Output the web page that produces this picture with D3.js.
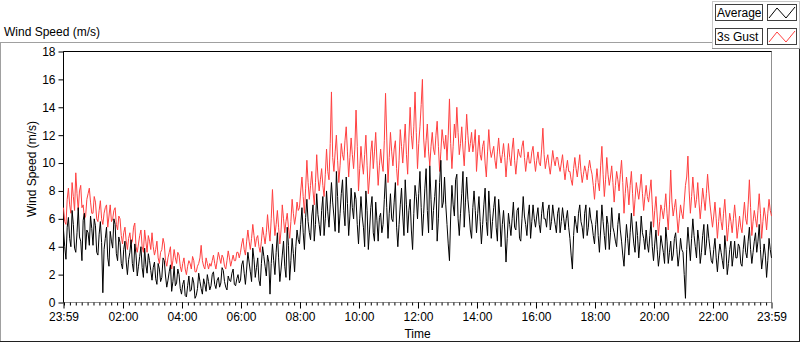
<!DOCTYPE html>
<html>
<head>
<meta charset="utf-8">
<script src="https://cdn.jsdelivr.net/npm/d3@7"></script>
<style>
  body { margin: 0; background: #fff; }
  svg { display: block; font-family: "Liberation Sans", Arial, sans-serif; font-size: 12px; }
</style>
</head>
<body>
<svg id="chart" width="800" height="342"></svg>
<script>
// samples spread evenly from 23:59 to 23:59 next day (24 per hour)
const avgSpeed = [
  5.2, 4.0, 3.1, 5.4, 6.1, 4.6, 4.0, 6.6, 5.6, 3.9, 3.6, 5.0, 6.8, 4.7, 4.4, 3.0, 5.9, 6.4, 3.8, 5.2, 5.0, 4.1, 6.2, 5.3,
  4.1, 6.0, 5.5, 3.6, 3.4, 4.9, 5.8, 4.3, 0.7, 3.8, 4.6, 5.4, 3.2, 2.6, 5.1, 4.4, 3.9, 6.0, 5.6, 3.5, 3.0, 4.7, 4.3, 2.8,
  2.4, 3.8, 4.4, 2.9, 2.0, 3.1, 3.6, 4.5, 2.8, 2.2, 4.2, 3.4, 1.9, 2.6, 3.3, 4.0, 2.5, 1.8, 3.9, 2.7, 2.1, 3.5, 3.0, 2.3,
  1.6, 2.5, 2.9, 1.7, 1.3, 2.8, 2.4, 1.5, 1.8, 3.2, 3.0, 1.9, 1.1, 1.6, 2.2, 2.7, 0.8, 1.5, 2.6, 1.2, 1.4, 2.4, 2.0, 1.0,
  0.6, 1.3, 1.6, 0.5, 0.4, 1.2, 1.9, 0.8, 0.9, 1.8, 1.4, 0.3, 0.5, 1.0, 2.1, 1.5, 1.0, 0.6, 1.7, 1.3, 0.8, 2.0, 1.5, 0.9,
  1.2, 2.0, 2.2, 1.3, 1.0, 1.6, 1.8, 1.1, 1.4, 2.5, 2.3, 1.5, 1.1, 0.9, 1.9, 1.6, 1.5, 2.1, 2.4, 1.3, 1.2, 1.7, 2.0, 1.4,
  1.6, 2.7, 3.0, 2.1, 1.3, 2.4, 3.6, 2.9, 2.2, 1.5, 3.9, 3.1, 1.8, 2.5, 3.2, 1.6, 1.2, 2.8, 4.0, 3.3, 2.6, 1.9, 3.4, 2.9,
  0.6, 2.8, 4.2, 3.0, 2.0, 3.6, 5.0, 3.2, 1.5, 2.4, 3.4, 4.4, 2.6, 1.8, 5.4, 4.1, 1.6, 3.0, 4.6, 3.5, 2.2, 4.0, 5.2, 4.5,
  4.2, 5.6, 6.8, 5.0, 3.8, 6.1, 7.4, 5.8, 5.0, 4.5, 6.2, 7.0, 4.4, 5.6, 7.8, 6.3, 5.6, 4.8, 6.6, 7.6, 4.8, 6.0, 8.0, 6.5,
  5.4, 7.0, 8.6, 7.2, 6.2, 5.1, 9.4, 7.6, 5.0, 6.4, 7.8, 8.8, 6.6, 5.5, 9.0, 7.1, 4.8, 6.2, 8.2, 6.8, 6.0, 7.9, 7.4, 5.6,
  4.2, 6.0, 7.6, 6.2, 5.4, 4.0, 8.0, 6.6, 3.8, 5.2, 6.8, 7.6, 5.0, 4.4, 7.2, 5.9, 4.4, 6.1, 6.4, 5.0, 5.6, 7.4, 9.2, 6.8,
  4.6, 6.4, 7.8, 6.0, 5.8, 7.2, 8.6, 5.4, 4.0, 5.6, 7.0, 8.2, 6.2, 4.8, 8.8, 7.0, 5.0, 6.6, 7.4, 5.2, 3.8, 6.4, 8.4, 7.6,
  6.0, 7.8, 9.4, 6.8, 4.8, 6.4, 8.2, 9.6, 6.6, 5.0, 9.8, 7.4, 5.2, 6.6, 7.6, 8.8, 4.4, 6.0, 8.6, 10.2, 6.8, 7.2, 9.0, 7.0,
  5.6, 4.2, 3.0, 6.2, 8.4, 7.0, 6.2, 8.8, 9.2, 6.0, 4.8, 6.4, 7.8, 9.4, 5.4, 7.2, 9.0, 7.4, 6.4, 5.2, 4.6, 6.8, 8.0, 6.6,
  5.0, 6.4, 7.6, 5.8, 4.2, 5.6, 7.0, 8.2, 5.8, 4.8, 8.0, 6.4, 4.6, 5.8, 6.8, 7.6, 5.4, 4.4, 7.4, 6.2, 4.0, 5.6, 6.6, 5.2,
  2.9, 4.6, 6.4, 5.6, 4.8, 6.0, 7.2, 5.4, 5.2, 6.6, 6.8, 4.6, 4.4, 6.0, 7.6, 6.2, 5.6, 4.8, 6.2, 7.0, 4.6, 5.8, 7.0, 6.0,
  5.4, 6.2, 6.8, 5.6, 5.0, 6.4, 7.2, 6.0, 6.0, 5.4, 6.6, 7.0, 5.2, 5.8, 7.0, 6.2, 5.6, 5.0, 6.4, 6.8, 5.0, 5.8, 6.8, 6.0,
  5.2, 6.0, 6.6, 5.4, 4.6, 3.4, 2.4, 4.8, 6.2, 5.6, 5.0, 6.4, 7.0, 5.8, 5.4, 4.6, 6.4, 7.0, 4.8, 5.4, 6.8, 6.0, 5.6, 4.8,
  4.2, 5.6, 6.6, 4.8, 3.6, 5.2, 7.0, 5.8, 4.8, 3.8, 6.2, 5.6, 3.8, 5.0, 6.8, 5.4, 5.0, 4.4, 4.0, 5.6, 6.4, 5.2, 4.4, 3.4,
  2.6, 4.2, 5.6, 4.6, 3.4, 5.0, 6.4, 5.2, 4.2, 3.6, 5.8, 4.8, 3.2, 4.4, 6.2, 5.0, 4.6, 3.8, 5.2, 4.2, 3.6, 4.8, 5.8, 4.0,
  3.0, 4.2, 5.2, 3.8, 2.6, 3.4, 4.8, 4.2, 3.6, 2.8, 5.4, 4.4, 2.8, 3.6, 4.4, 3.0, 3.4, 4.6, 5.0, 3.8, 2.6, 3.4, 4.6, 3.8,
  3.6, 2.0, 0.3, 3.8, 5.4, 4.2, 3.0, 4.6, 6.0, 4.8, 4.0, 3.2, 5.2, 4.4, 2.8, 3.6, 4.8, 5.6, 3.4, 4.2, 5.6, 4.6, 3.8, 3.0,
  2.8, 3.8, 4.6, 3.2, 2.2, 3.4, 4.2, 3.6, 3.0, 2.4, 4.8, 3.8, 2.0, 2.8, 3.8, 4.4, 2.6, 3.4, 4.4, 3.2, 3.2, 4.2, 4.0, 2.8,
  2.6, 3.8, 4.8, 3.6, 3.2, 4.4, 5.4, 3.8, 2.8, 3.6, 4.4, 5.0, 3.6, 4.4, 5.6, 3.8, 2.4, 3.2, 4.2, 3.4, 1.8, 3.0, 4.6, 3.8,
  3.2
];
const gustSpeed = [
  6.8, 5.8, 5.6, 7.4, 8.2, 7.0, 6.4, 8.6, 7.6, 6.6, 9.3, 7.8, 6.6, 8.0, 8.4, 6.8, 7.0, 6.0, 6.2, 7.4, 7.8, 8.2, 7.2, 6.4,
  6.4, 7.6, 7.2, 6.0, 5.8, 6.6, 7.3, 6.0, 5.6, 6.4, 6.8, 7.0, 5.4, 6.2, 7.0, 5.8, 6.0, 6.6, 6.8, 5.6, 5.2, 6.2, 6.0, 4.8,
  4.2, 5.0, 5.4, 4.4, 3.8, 4.6, 5.0, 4.2, 4.4, 5.4, 5.7, 4.0, 3.6, 4.2, 4.8, 5.2, 4.0, 3.6, 5.2, 4.4, 3.6, 4.8, 4.4, 3.8,
  5.0, 4.0, 3.4, 3.8, 4.4, 3.2, 2.8, 3.6, 3.8, 4.6, 4.2, 3.0, 2.6, 3.2, 3.6, 4.0, 2.4, 3.0, 3.8, 3.2, 2.8, 3.6, 3.4, 2.6,
  2.2, 2.8, 3.2, 2.4, 2.0, 2.6, 3.0, 2.8, 2.4, 3.3, 3.0, 2.2, 2.2, 2.6, 2.8, 3.2, 4.1, 3.0, 2.6, 2.4, 3.2, 2.8, 2.4, 2.8,
  2.6, 3.0, 3.4, 2.8, 2.4, 3.0, 3.6, 3.2, 2.8, 3.4, 3.2, 2.6, 2.4, 3.0, 3.7, 3.2, 2.6, 3.0, 3.4, 3.0, 3.0, 3.6, 3.6, 3.2,
  3.6, 4.2, 4.6, 3.8, 3.4, 4.4, 5.2, 4.4, 3.8, 4.6, 5.6, 4.8, 4.0, 4.6, 4.8, 4.0, 3.6, 4.4, 5.4, 4.8, 4.2, 5.0, 6.3, 5.2,
  4.4, 6.0, 8.1, 6.2, 4.8, 5.6, 6.6, 5.4, 4.2, 5.2, 7.0, 6.0, 5.0, 5.8, 6.4, 5.4, 4.6, 5.8, 7.4, 6.4, 5.6, 6.2, 7.2, 6.6,
  6.8, 8.0, 9.0, 7.6, 6.4, 8.2, 10.2, 8.6, 7.4, 8.4, 9.4, 8.0, 7.0, 8.6, 10.6, 9.0, 8.0, 8.8, 9.6, 8.4, 7.6, 9.2, 11.0, 9.4,
  8.8, 11.4, 15.1, 10.4, 9.4, 10.8, 12.0, 10.2, 8.6, 9.8, 11.4, 10.6, 10.2, 11.6, 12.6, 10.8, 9.0, 10.4, 11.8, 10.6, 9.6, 11.0, 13.8, 11.2,
  8.0, 9.6, 11.2, 10.0, 9.2, 10.6, 12.0, 9.8, 7.8, 9.0, 10.8, 11.6, 9.6, 10.8, 12.2, 10.2, 8.4, 9.8, 11.0, 10.0, 9.4, 11.6, 15.0, 11.8,
  8.6, 10.4, 12.2, 10.8, 9.8, 11.0, 11.6, 9.6, 8.4, 10.2, 12.4, 11.2, 10.0, 11.4, 12.8, 10.6, 9.2, 11.8, 14.0, 12.0, 11.0, 12.6, 15.1, 12.2,
  9.6, 11.4, 12.6, 14.2, 16.0, 11.8, 10.4, 11.6, 12.8, 10.8, 9.8, 11.2, 12.2, 11.0, 10.6, 12.0, 13.0, 11.2, 9.4, 10.8, 12.4, 11.6, 11.0, 12.0,
  10.2, 12.0, 14.6, 11.4, 9.6, 11.2, 12.8, 11.8, 14.0, 12.2, 10.6, 11.4, 12.6, 11.0, 9.8, 11.6, 13.5, 12.0, 10.8, 11.4, 12.2, 10.8, 11.4, 12.4,
  9.4, 10.8, 12.0, 10.6, 10.2, 11.2, 11.6, 10.0, 9.0, 10.8, 12.4, 11.0, 10.4, 10.8, 11.2, 10.2, 9.6, 10.8, 11.8, 10.6, 10.0, 10.6, 11.4, 10.4,
  9.0, 10.2, 11.4, 10.4, 9.8, 11.0, 11.8, 10.2, 9.2, 10.2, 11.0, 10.6, 10.4, 11.2, 11.6, 10.4, 9.4, 10.2, 10.8, 10.0, 10.0, 10.8, 11.2, 10.2,
  9.4, 10.2, 10.8, 10.0, 9.8, 11.0, 12.5, 10.6, 9.6, 10.2, 10.6, 9.8, 9.2, 10.0, 10.9, 10.2, 9.8, 10.4, 10.4, 9.8, 9.4, 10.0, 10.6, 9.6,
  8.8, 9.6, 10.2, 9.4, 9.4, 8.8, 8.4, 9.6, 10.4, 9.6, 9.0, 9.8, 10.6, 9.4, 8.6, 9.2, 9.8, 9.4, 8.8, 9.6, 10.2, 9.6, 9.2, 8.4,
  7.4, 8.6, 9.6, 8.6, 8.0, 9.8, 11.2, 9.2, 7.6, 8.8, 10.4, 9.2, 8.4, 9.0, 9.8, 8.6, 7.2, 8.4, 9.4, 8.8, 8.0, 9.2, 10.2, 8.6,
  6.4, 7.8, 9.0, 8.2, 7.0, 8.4, 9.4, 7.8, 6.2, 7.4, 8.6, 8.0, 7.4, 8.2, 9.2, 7.8, 6.6, 7.6, 8.4, 7.6, 7.2, 8.0, 8.8, 7.0,
  5.4, 6.6, 7.6, 6.2, 4.8, 5.8, 7.0, 6.6, 6.0, 6.8, 7.8, 6.4, 5.2, 7.0, 9.5, 7.2, 6.2, 6.8, 7.4, 6.2, 5.0, 6.0, 7.0, 6.4,
  6.0, 7.2, 8.4, 9.0, 10.5, 8.0, 6.4, 7.6, 9.0, 7.8, 6.8, 7.4, 8.6, 7.2, 6.0, 7.0, 8.2, 7.4, 6.6, 7.8, 9.2, 8.0, 7.0, 6.2,
  5.4, 6.2, 7.2, 6.0, 4.6, 5.8, 6.8, 5.8, 5.2, 6.4, 7.4, 6.0, 4.4, 5.4, 6.4, 5.8, 5.0, 6.0, 7.0, 6.0, 4.6, 5.4, 6.2, 5.4,
  5.0, 6.2, 7.2, 6.0, 5.6, 7.0, 8.8, 6.8, 4.8, 5.8, 6.6, 6.0, 5.4, 6.6, 7.8, 6.4, 4.6, 5.8, 6.8, 6.2, 5.2, 6.4, 7.4, 6.6,
  6.2
];
const xTickLabels = ['23:59', '02:00', '04:00', '06:00', '08:00', '10:00', '12:00',
  '14:00', '16:00', '18:00', '20:00', '22:00', '23:59'];
const yTicks = [0, 2, 4, 6, 8, 10, 12, 14, 16, 18];
const seriesNames = ['Average', '3s Gust'];
const seriesColors = ['#000000', '#ff4040'];

const svg = d3.select('#chart');

const start = new Date(2020, 0, 1, 23, 59);
const end = d3.timeDay.offset(start, 1);
const timesFor = s => s.map((d, i) => new Date(+start + (end - start) * i / (s.length - 1)));

const plot = {left: 63.5, right: 771.5, top: 51.5, bottom: 302.5};

const x = d3.scaleTime().domain([start, end]).range([plot.left, plot.right]);
const y = d3.scaleLinear().domain([0, 18]).range([plot.bottom, plot.top]);

// outer panel
svg.append('line').attr('x1', 0).attr('y1', 42.5).attr('x2', 712).attr('y2', 42.5).attr('stroke', '#a0a0a0');
svg.append('line').attr('x1', 0.5).attr('y1', 42).attr('x2', 0.5).attr('y2', 341).attr('stroke', '#a0a0a0');
svg.append('line').attr('x1', 0).attr('y1', 341.5).attr('x2', 800).attr('y2', 341.5).attr('stroke', '#202020');
svg.append('line').attr('x1', 799.5).attr('y1', 49).attr('x2', 799.5).attr('y2', 342).attr('stroke', '#202020');

svg.append('text').attr('x', 4).attr('y', 36).text('Wind Speed (m/s)');

// legend panel
svg.append('rect').attr('x', 712.5).attr('y', 1.5).attr('width', 87).attr('height', 47)
  .attr('fill', '#fff').attr('stroke', '#c8c8c8');
svg.append('line').attr('x1', 712).attr('y1', 48.5).attr('x2', 800).attr('y2', 48.5).attr('stroke', '#909090');

const legend = svg.append('g').selectAll('g').data(seriesNames).enter().append('g')
  .attr('transform', (d, i) => `translate(0,${i * 24})`);
legend.append('rect').attr('x', 715.5).attr('y', 4.5).attr('width', 47).attr('height', 16)
  .attr('fill', '#fff').attr('stroke', '#404040');
legend.append('text').attr('x', 717).attr('y', 17).text(d => d);
legend.append('rect').attr('x', 767.5).attr('y', 4.5).attr('width', 29).attr('height', 16)
  .attr('fill', '#fff').attr('stroke', '#404040');
legend.append('polyline')
  .attr('points', '769,18 777,8 786,18 795,7')
  .attr('fill', 'none')
  .attr('stroke', (d, i) => seriesColors[i]);

// plot border
svg.append('rect').attr('x', plot.left).attr('y', plot.top)
  .attr('width', plot.right - plot.left).attr('height', plot.bottom - plot.top)
  .attr('fill', '#fff').attr('stroke', '#909090');
svg.append('path')
  .attr('d', `M${plot.left},${plot.bottom}V${plot.top}H${plot.right}`)
  .attr('fill', 'none').attr('stroke', '#000');

// series, gust first so the average sits on top
[[gustSpeed, seriesColors[1]], [avgSpeed, seriesColors[0]]].forEach(([s, color]) => {
  const t = timesFor(s);
  const line = d3.line().x((d, i) => x(t[i])).y(d => y(d));
  svg.append('path')
    .datum(s)
    .attr('fill', 'none')
    .attr('stroke', color)
    .attr('stroke-width', 1)
    .attr('d', line);
});

// y axis
const yAxisG = svg.append('g')
  .attr('transform', `translate(${plot.left},0)`)
  .call(d3.axisLeft(y).tickValues(yTicks).tickSize(5).tickSizeOuter(0).tickPadding(3));
yAxisG.select('.domain').remove();
yAxisG.selectAll('text').attr('font-size', 12).attr('font-family', null);

svg.append('text')
  .attr('transform', `translate(36,${(plot.top + plot.bottom) / 2 - 8}) rotate(-90)`)
  .attr('text-anchor', 'middle')
  .text('Wind Speed (m/s)');

// x axis
const majorTicks = [start].concat(d3.timeHour.every(2).range(d3.timeHour.offset(start, 1), end), [end]);
const minorTicks = d3.timeMinute.every(12).range(d3.timeMinute.offset(start, 1), end);

const xMinorG = svg.append('g')
  .attr('transform', `translate(0,${plot.bottom})`)
  .call(d3.axisBottom(x).tickValues(minorTicks).tickSize(3).tickSizeOuter(0).tickFormat(''));
xMinorG.select('.domain').remove();

const xAxisG = svg.append('g')
  .attr('transform', `translate(0,${plot.bottom})`)
  .call(d3.axisBottom(x).tickValues(majorTicks).tickSize(6).tickSizeOuter(0).tickPadding(4)
    .tickFormat((d, i) => xTickLabels[i]));
xAxisG.select('.domain').remove();
xAxisG.selectAll('text').attr('font-size', 12).attr('font-family', null);

svg.append('text')
  .attr('x', (plot.left + plot.right) / 2)
  .attr('y', 338)
  .attr('text-anchor', 'middle')
  .text('Time');
</script>
</body>
</html>
